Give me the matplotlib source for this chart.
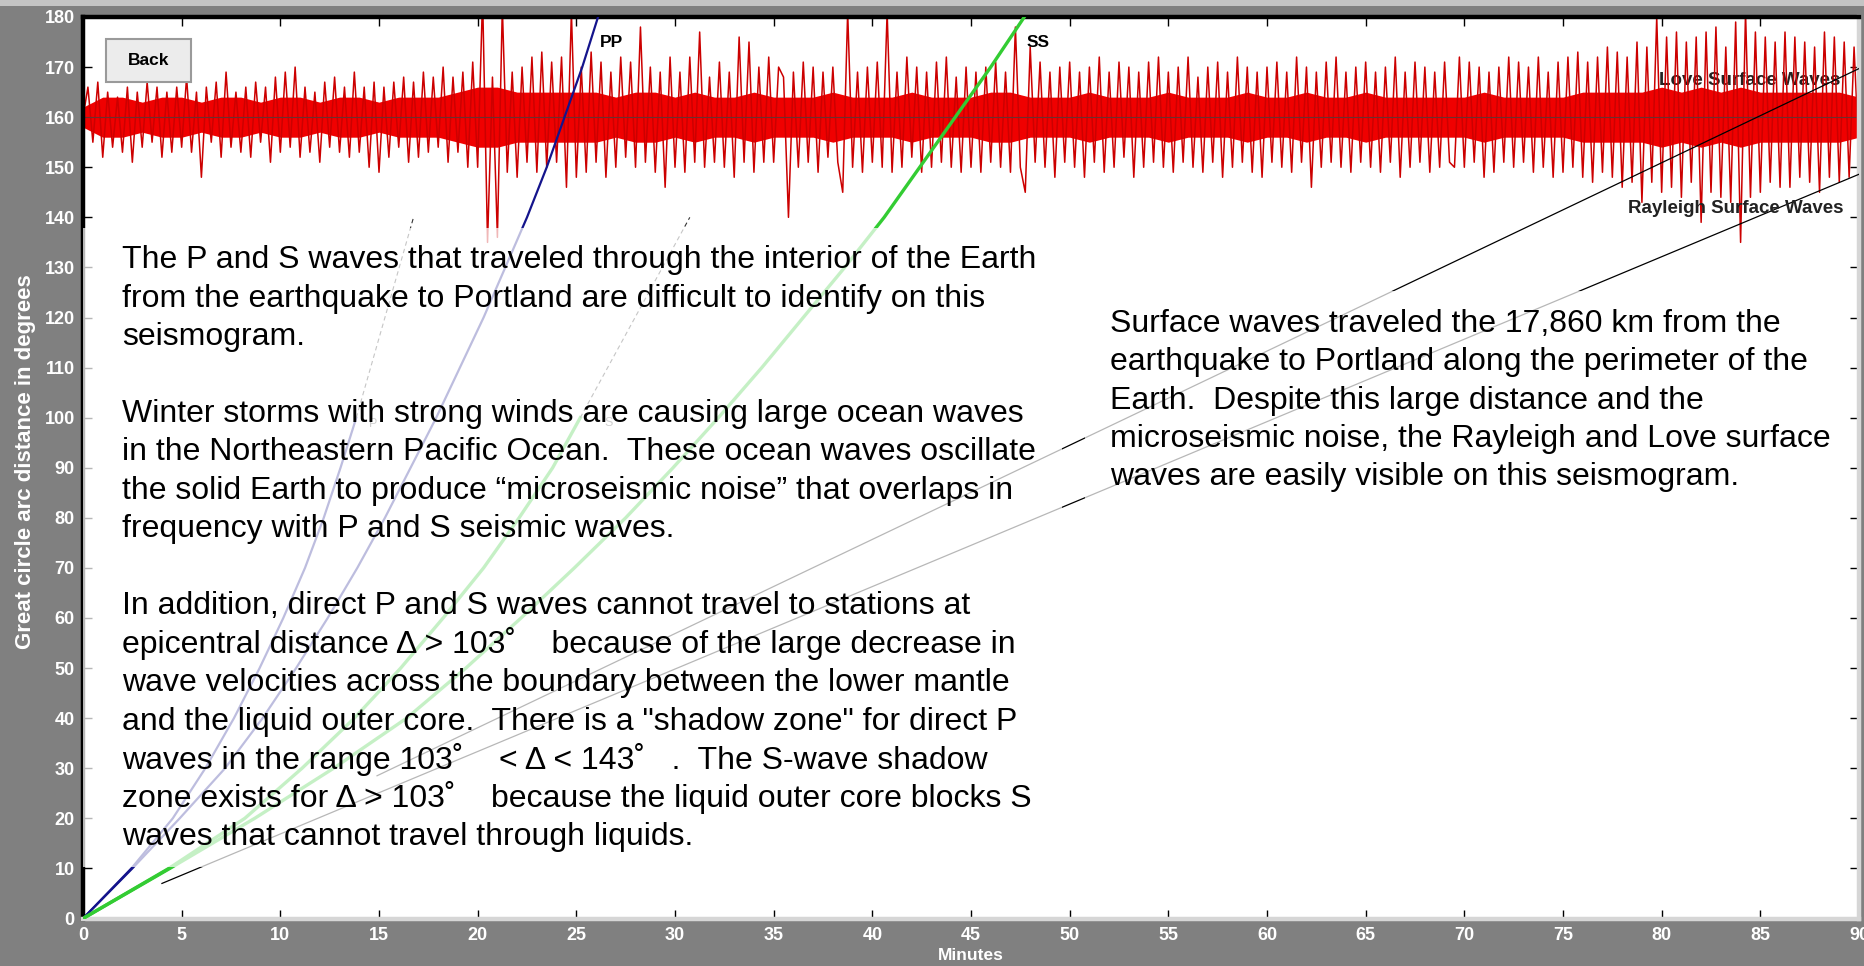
import numpy as np
import matplotlib.pyplot as plt
from matplotlib.patches import Rectangle

W, H = 1864, 966
plt.rcParams['font.family'] = ['Liberation Sans', 'DejaVu Sans']

# seismogram trace: deviation (deg) from the 160 deg baseline, one value every 0.25 min
trace_base = 160
trace_step = 0.25
trace_amp = [
    0, 6, -5, 7, -8, 5, -6, 4, -7, 6, -9, 5, -6, 7, -5, 6, -8, 5, -7, 6,
    -6, 8, -7, 5, -12, 6, -5, 7, -8, 9, -6, 5, -7, 6, -8, 7, -5, 6, -9, 8,
    -7, 9, -6, 10, -8, 6, -7, 5, -9, 7, -6, 8, -7, 6, -8, 9, -7, 6, -10, 7,
    -11, 6, -8, 7, -6, 8, -9, 7, -8, 9, -7, 8, -6, 10, -9, 8, -7, 9, -10, 11,
    -10, 24, -25, 8, -24, 22, -11, 9, -12, 10, -9, 12, -11, 13, -10, 11, -9, 12, -14, 21,
    -12, 10, -11, 13, -9, 11, -12, 9, -10, 12, -8, 11, -10, 18, -9, 10, -11, 9, -14, 12,
    -10, 9, -11, 12, -9, 17, -10, 8, -9, 11, -10, 9, -12, 16, -9, 15, -11, 10, -9, 12,
    -9, 10, 8, -20, 9, -10, 11, -9, 10, -11, 9, -8, 10, -9, -15, 21, -10, 9, -11, 10,
    -9, 11, -10, 21, -11, 9, -10, 12, -8, 10, -11, 9, -10, 11, -9, 12, -10, 8, -11, 10,
    -10, 9, -11, 10, -9, 11, -10, 9, -11, 18, -10, -15, 14, -9, 11, -10, 9, -12, 10, -9,
    11, -10, 9, -12, 10, -9, 12, -11, 9, -10, 11, -8, 10, -12, 9, -10, 11, -9, 12, -10,
    9, -11, 10, -9, 12, -10, 8, -11, 10, -9, 11, -12, 9, -10, 12, -9, 10, -11, 9, -12,
    10, -9, 11, -10, 9, -11, 12, -9, 10, -14, 9, -10, 11, -9, 12, -10, 9, -11, 10, -9,
    11, -10, 9, -11, 10, -9, 12, -12, 9, -10, 11, -9, 10, -11, 9, -10, 11, -9, -10, 12,
    -10, 11, -9, 10, -12, 9, -11, 10, -9, 12, -10, 11, -9, 10, -11, 12, -10, 9, -12, 11,
    -11, 12, -10, 13, -12, 11, -13, 12, -11, 14, -12, 13, -14, 12, -13, 15, -17, 14, -13, 20,
    -15, 16, -14, 17, -16, 15, -13, 16, -21, 17, -15, 18, -16, 14, -17, 19, -25, 21, -16, 17,
    -15, 16, -13, 15, -14, 17, -14, 16, -12, 15, -13, 14, -15, 17, -12, 16, -13, 15, -12, 14,
    -8,
]
trace_t = np.arange(len(trace_amp)) * trace_step

# half width of the dense noise core, one value per minute (0..90)
band_half = [
    2, 4, 4, 3, 4, 4, 3, 4, 4, 3,
    4, 4, 3, 4, 4, 3, 4, 4, 4, 5,
    6, 6, 5, 5, 5, 5, 5, 4, 5, 5,
    4, 5, 4, 4, 5, 4, 4, 4, 5, 4,
    4, 4, 5, 4, 4, 4, 5, 5, 4, 4,
    4, 5, 4, 4, 4, 5, 4, 4, 4, 5,
    4, 4, 5, 4, 4, 5, 4, 4, 4, 4,
    4, 5, 4, 4, 4, 4, 5, 5, 5, 5,
    6, 5, 6, 5, 6, 5, 5, 5, 5, 5, 4,
]
band_t = np.arange(len(band_half))

# travel-time curves (degrees vs minutes)
p_deg = [0, 10, 20, 30, 40, 50, 60, 70, 80, 90, 100]
p_min = [0, 2.45, 4.55, 6.2, 7.65, 8.95, 10.15, 11.25, 12.2, 13.05, 13.85]
pdiff_deg = [100, 140]
pdiff_min = [13.85, 16.75]
pp_deg = [0, 10, 20, 30, 40, 50, 60, 70, 80, 90, 100, 110, 120, 130, 140, 150, 160, 170, 180]
pp_min = [0, 2.5, 4.9, 7.2, 9.1, 10.8, 12.4, 13.9, 15.3, 16.6, 17.9, 19.1, 20.3, 21.4,
          22.5, 23.5, 24.4, 25.3, 26.1]
s_deg = [0, 10, 20, 30, 40, 50, 60, 70, 80, 90, 100]
s_min = [0, 4.35, 8.2, 11.1, 13.75, 16.1, 18.25, 20.3, 22.1, 23.8, 25.2]
sdiff_deg = [100, 140]
sdiff_min = [25.2, 30.75]
ss_deg = [0, 10, 20, 30, 40, 50, 60, 70, 80, 90, 100, 110, 120, 130, 140, 150, 160, 170, 180]
ss_min = [0, 4.4, 8.7, 12.7, 16.4, 19.4, 22.2, 24.9, 27.5, 29.9, 32.2, 34.4, 36.5, 38.6,
          40.6, 42.4, 44.2, 46.0, 47.7]
love_min = [14.9, 90.0]
love_deg = [28.5, 169.7]
rayleigh_min = [4.0, 90.0]
rayleigh_deg = [7.0, 148.6]

left_lines = [
    "The P and S waves that traveled through the interior of the Earth",
    "from the earthquake to Portland are difficult to identify on this",
    "seismogram.",
    "",
    "Winter storms with strong winds are causing large ocean waves",
    "in the Northeastern Pacific Ocean.  These ocean waves oscillate",
    "the solid Earth to produce \u201cmicroseismic noise\u201d that overlaps in",
    "frequency with P and S seismic waves.",
    "",
    "In addition, direct P and S waves cannot travel to stations at",
    "epicentral distance \u0394 > 103\u02da    because of the large decrease in",
    "wave velocities across the boundary between the lower mantle",
    "and the liquid outer core.  There is a \"shadow zone\" for direct P",
    "waves in the range 103\u02da    < \u0394 < 143\u02da   .  The S-wave shadow",
    "zone exists for \u0394 > 103\u02da    because the liquid outer core blocks S",
    "waves that cannot travel through liquids.",
]
right_lines = [
    "Surface waves traveled the 17,860 km from the",
    "earthquake to Portland along the perimeter of the",
    "Earth.  Despite this large distance and the",
    "microseismic noise, the Rayleigh and Love surface",
    "waves are easily visible on this seismogram.",
]


def px(x, y):
    return x / W, 1 - y / H


fig = plt.figure(figsize=(W / 100, H / 100), dpi=100, facecolor='#808080')
ax = fig.add_axes([83 / W, 1 - 918.5 / H, (1859 - 83) / W, (918.5 - 17) / H])
ax.set_xlim(0, 90)
ax.set_ylim(0, 180)
ax.set_facecolor('white')

# seismogram
ax.fill_between(band_t, trace_base - np.array(band_half), trace_base + np.array(band_half),
                color='#f00000', lw=0, zorder=2)
ax.plot(trace_t, trace_base + np.array(trace_amp), color='#cc0000', lw=1.1, zorder=2.2)
ax.axhline(trace_base, color='#6a3030', lw=0.8, zorder=2.3)
ax.text(89.07, 166.5, 'Love Surface Waves', ha='right', va='baseline',
        fontsize=13.5, fontweight='bold', color='#222222', zorder=1.5)

# travel-time curves
ax.plot(pp_min, pp_deg, color='#14148c', lw=1.6, zorder=3)
ax.plot(p_min, p_deg, color='#14148c', lw=1.6, zorder=3)
ax.plot(pdiff_min, pdiff_deg, color='#333333', lw=0.8, ls=(0, (4, 3)), zorder=3)
ax.plot(ss_min, ss_deg, color='#33cc33', lw=2.4, zorder=3)
ax.plot(s_min, s_deg, color='#33cc33', lw=2.4, zorder=3)
ax.plot(sdiff_min, sdiff_deg, color='#333333', lw=0.8, ls=(0, (4, 3)), zorder=3)
ax.plot(love_min, love_deg, color='black', lw=0.9, zorder=3)
ax.plot(rayleigh_min, rayleigh_deg, color='black', lw=0.9, zorder=3)
ax.text(14.7, 98.7, 'P', fontsize=9, color='#555555', ha='center', va='center', zorder=3)
ax.text(26.65, 99.0, 'S', fontsize=9, color='#555555', ha='center', va='center', zorder=3)

ax.text(26.2, 174.1, 'PP', fontsize=12.5, fontweight='bold', va='baseline', zorder=4)
ax.text(47.83, 174.1, 'SS', fontsize=12.5, fontweight='bold', va='baseline', zorder=4)
ax.text(89.2, 140.9, 'Rayleigh Surface Waves', ha='right', va='baseline',
        fontsize=13.5, fontweight='bold', color='#222222', zorder=4)

# translucent text panels
ax.add_patch(Rectangle((0, 10.2), 49.6, 137.8 - 10.2, facecolor='white', alpha=0.72,
                       lw=0, zorder=5))
ax.add_patch(Rectangle((50.8, 79.4), 89.5 - 50.8, 125.2 - 79.4, facecolor='white',
                       alpha=0.72, lw=0, zorder=5))

# axes styling
ax.set_xticks(np.arange(0, 91, 5))
ax.set_yticks(np.arange(0, 181, 10))
ax.tick_params(axis='both', direction='in', length=6.5, width=1, color='black',
               labelcolor='white', labelsize=13, top=True, right=True, pad=6)
for lbl in ax.get_xticklabels() + ax.get_yticklabels():
    lbl.set_fontweight('bold')
for side in ['top', 'left']:
    ax.spines[side].set_color('black')
    ax.spines[side].set_linewidth(3.2)
for side in ['bottom', 'right']:
    ax.spines[side].set_color('#d6d6d6')
    ax.spines[side].set_linewidth(3.2)

fig.text(*px(971, 956), 'Minutes', color='white', fontsize=12.5, fontweight='bold',
         ha='center', va='center')
fig.text(*px(26, 462), 'Great circle arc distance in degrees', color='white', fontsize=16,
         fontweight='bold', rotation=90, ha='center', va='center')

# paragraphs
for i, line in enumerate(left_lines):
    fig.text(*px(122, 268 + i * 38.5), line, fontsize=23, va='baseline', ha='left')
for i, line in enumerate(right_lines):
    fig.text(*px(1110, 331.5 + i * 38.5), line, fontsize=23, va='baseline', ha='left')

# top strip and Back button
fig.add_artist(Rectangle(px(0, 6), 1, 6 / H, transform=fig.transFigure,
                         facecolor='#c4c4c4', lw=0))
fig.add_artist(Rectangle(px(106, 82), 85 / W, 43 / H, transform=fig.transFigure,
                         facecolor='#ececec', edgecolor='#9a9a9a', lw=1.5))
fig.text(*px(148.5, 60.5), 'Back', fontsize=12.5, fontweight='bold', ha='center', va='center')

fig.savefig('out.png', dpi=100, facecolor=fig.get_facecolor())
